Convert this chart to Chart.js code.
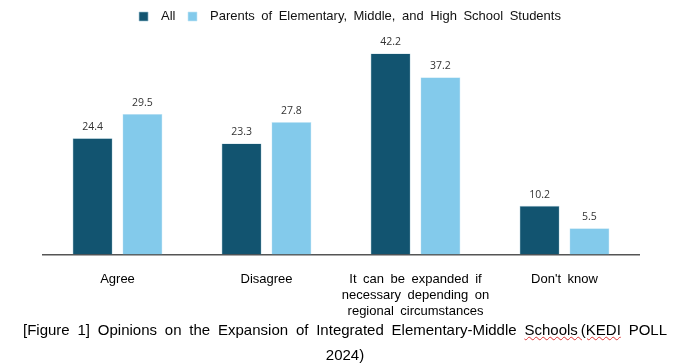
<!DOCTYPE html>
<html>
<head>
<meta charset="utf-8">
<script src="https://cdn.jsdelivr.net/npm/chart.js@4.4.1/dist/chart.umd.min.js"></script>
<style>
  html, body { margin: 0; padding: 0; background: #fff; }
  body { position: relative; width: 686px; height: 364px; overflow: hidden; }
  #wrap { position: absolute; left: 0; top: 0; width: 686px; height: 336px; }
  #caption {
    position: absolute;
    top: 317px;
    left: 23px;
    width: 644px;
    font-family: "Liberation Sans", Arial, sans-serif;
    font-size: 15px;
    line-height: 25px;
    color: #000;
    text-align: justify;
    text-align-last: center;
  }
  .spell { text-decoration: underline wavy #d33; text-decoration-thickness: 1px; text-underline-offset: 1px; }
</style>
</head>
<body>
<div id="wrap"><canvas id="myChart"></canvas></div>
<div id="caption">[Figure 1] Opinions on the Expansion of Integrated Elementary-Middle <span class="spell">Schools&#8201;(KEDI</span> POLL 2024)</div>

<script>
const categories = [
  "Agree",
  "Disagree",
  ["It can be expanded if", "necessary depending on", "regional circumstances"],
  "Don't know"
];
const allValues = [24.4, 23.3, 42.2, 10.2];
const parentValues = [29.5, 27.8, 37.2, 5.5];
const seriesNames = ["All", "Parents of Elementary, Middle, and High School Students"];

// the original text is set with wide gaps between words -> use en spaces
const widen = (s) => s.replace(/ /g, "\u2002");

// legend sits a little right of the plot centre in the original
const legendShift = {
  id: "legendShift",
  afterLayout(chart) {
    chart.legend.left += 9;
    chart.legend.right += 9;
  }
};

// value labels above bars
const barLabels = {
  id: "barLabels",
  afterDatasetsDraw(chart) {
    const ctx = chart.ctx;
    ctx.save();
    ctx.font = "10.5px 'Open Sans', sans-serif";
    ctx.fillStyle = "#333";
    ctx.textAlign = "center";
    ctx.textBaseline = "bottom";
    chart.data.datasets.forEach((ds, i) => {
      chart.getDatasetMeta(i).data.forEach((bar, j) => {
        ctx.fillText(ds.data[j].toFixed(1), bar.x, bar.y - 6);
      });
    });
    ctx.restore();
  }
};

const ctx = document.getElementById("myChart");
new Chart(ctx, {
  type: "bar",
  data: {
    labels: categories,
    datasets: [
      {
        label: seriesNames[0],
        data: allValues,
        backgroundColor: "#125470",
        borderColor: "#9cc3d3",
        borderWidth: 0.6,
        barPercentage: 0.8,
        categoryPercentage: 0.67
      },
      {
        label: seriesNames[1],
        data: parentValues,
        backgroundColor: "#83caeb",
        borderColor: "#c4e6f5",
        borderWidth: 0.6,
        barPercentage: 0.8,
        categoryPercentage: 0.67
      }
    ]
  },
  options: {
    responsive: true,
    maintainAspectRatio: false,
    animation: false,
    layout: { padding: { left: 43, right: 47, top: 4, bottom: 0 } },
    plugins: {
      legend: {
        position: "top",
        labels: {
          boxWidth: 9,
          boxHeight: 9,
          padding: 6,
          color: "#111",
          font: { family: "'Liberation Sans', Arial, sans-serif", size: 13 },
          // extra space between box and text, and between the two items
          generateLabels(chart) {
            const items = Chart.defaults.plugins.legend.labels.generateLabels(chart);
            items.forEach((item, i) => {
              item.text = "\u2002" + widen(item.text) + (i === 0 ? "\u2002" : "");
            });
            return items;
          }
        }
      },
      tooltip: { enabled: false }
    },
    scales: {
      x: {
        grid: { display: false, drawTicks: false },
        border: { display: true, color: "#555", width: 1.5 },
        ticks: {
          color: "#000",
          padding: 17,
          maxRotation: 0,
          autoSkip: false,
          font: { family: "'Liberation Sans', Arial, sans-serif", size: 13, lineHeight: 1.22 },
          callback(value) {
            const lbl = this.getLabelForValue(value);
            return Array.isArray(lbl) ? lbl.map(widen) : widen(lbl);
          }
        }
      },
      y: {
        display: false,
        min: 0,
        max: 46.5
      }
    }
  },
  plugins: [legendShift, barLabels]
});
</script>
</body>
</html>
